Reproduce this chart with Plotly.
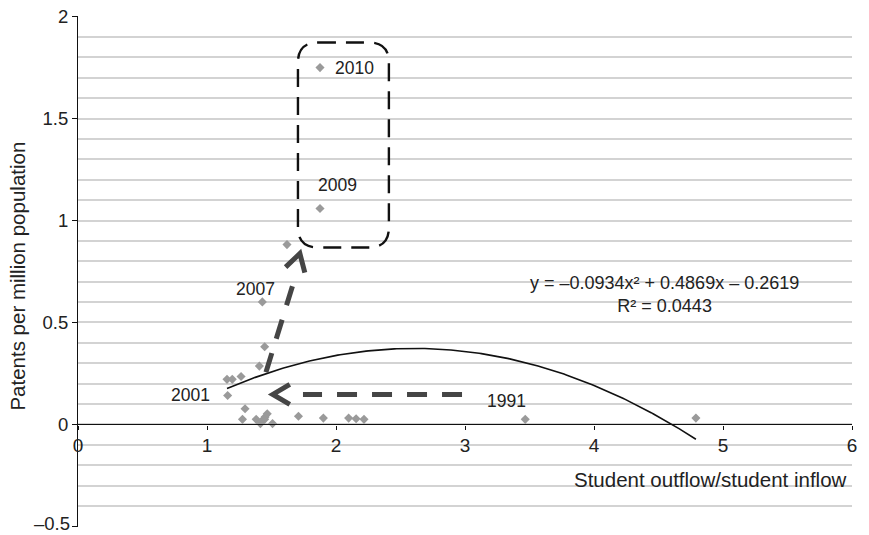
import numpy as np
import plotly.graph_objects as go

# Student outflow/inflow ratio vs. patents per million population
outflow_ratio = [1.275, 1.295, 1.381, 1.414, 1.430, 1.447, 1.450, 1.467, 1.508,
                 1.709, 1.902, 2.098, 2.156, 2.217, 3.467, 4.790,
                 1.155, 1.196, 1.264, 1.160, 1.406, 1.447, 1.429, 1.620,
                 1.876, 1.876]
patents_per_million = [0.025, 0.077, 0.025, 0.004, 0.020, 0.025, 0.036, 0.052, 0.004,
                       0.040, 0.031, 0.031, 0.028, 0.025, 0.025, 0.031,
                       0.221, 0.221, 0.235, 0.142, 0.286, 0.381, 0.601, 0.882,
                       1.059, 1.750]

# Year labels: index into the arrays above, text, and pixel offset of the label
label_index = [14, 19, 22, 24, 25]
label_text = ["1991", "2001", "2007", "2009", "2010"]
label_anchor = ["center", "right", "center", "center", "left"]
label_dx = [-19, -16, -7, 17, 13]
label_dy = [18, 0, 13, 23, 0]

# Quadratic trend: y = a x^2 + b x + c
trend_coef = [-0.0934, 0.4869, -0.2619]
trend_r2 = 0.0443

x_ticks = [0, 1, 2, 3, 4, 5, 6]
x_range = [0, 6]
y_ticks = [-0.5, 0, 0.5, 1, 1.5, 2]
y_ticktext = ["–0.5", "0", "0.5", "1", "1.5", "2"]
y_range = [-0.503, 2.003]

# Annotation arrows (data coordinates): dashes start, dashes end, tip
arrow_h = [(2.977, 0.147), (1.744, 0.147), (1.51, 0.147)]
arrow_d = [(1.457, 0.256), (1.69, 0.735), (1.72, 0.838)]
# Highlight box around the latest years
box_x = [1.705, 2.41]
box_y = [0.868, 1.873]

W, H = 869, 535
ML, MR, MT, MB = 78, 17, 16, 8
PW, PH = W - ML - MR, H - MT - MB
sx = PW / (x_range[1] - x_range[0])
sy = PH / (y_range[1] - y_range[0])

font_family = "Liberation Sans, Arial, Helvetica, sans-serif"
text_color = "#222222"
arrow_color = "#454545"
tick_font = dict(size=18.5, color=text_color, family=font_family)

fig = go.Figure()

# trend curve over the observed range
xt = np.linspace(min(outflow_ratio), max(outflow_ratio), 200)
yt = trend_coef[0] * xt ** 2 + trend_coef[1] * xt + trend_coef[2]
fig.add_trace(go.Scatter(x=xt, y=yt, mode="lines",
                         line=dict(color="#111111", width=1.6),
                         hoverinfo="skip", showlegend=False))

fig.add_trace(go.Scatter(x=outflow_ratio, y=patents_per_million, mode="markers",
                         marker=dict(symbol="diamond", size=7, color="#9a9a9a",
                                     line=dict(width=0)),
                         showlegend=False))

annotations = []
for i, t, a, dx, dy in zip(label_index, label_text, label_anchor, label_dx, label_dy):
    annotations.append(dict(x=outflow_ratio[i], y=patents_per_million[i], text=t,
                            showarrow=False, xanchor=a, yanchor="middle",
                            xshift=dx, yshift=dy,
                            font=dict(size=17.5, color=text_color, family=font_family)))

eq = (f"y = –{abs(trend_coef[0]):.4f}x² + {trend_coef[1]:.4f}x – {abs(trend_coef[2]):.4f}"
      f"<br>R² = {trend_r2:.4f}")
annotations.append(dict(x=4.543, y=0.637, text=eq, showarrow=False, align="center",
                        xanchor="center", yanchor="middle",
                        font=dict(size=18, color=text_color, family=font_family)))

annotations.append(dict(xref="paper", yref="y", x=0.996, y=-0.268,
                        text="Student outflow/student inflow", showarrow=False,
                        xanchor="right", yanchor="middle",
                        font=dict(size=20.5, color=text_color, family=font_family)))
annotations.append(dict(xref="paper", yref="paper", x=(18 - ML) / PW, y=0.49,
                        text="Patents per million population", showarrow=False,
                        textangle=-90, xanchor="center", yanchor="middle",
                        font=dict(size=20.5, color=text_color, family=font_family)))

# lowest y tick label sits right at the bottom edge; nudge it up to stay inside
annotations.append(dict(xref="paper", yref="y", x=(72 - ML) / PW, y=y_ticks[0],
                        text=y_ticktext[0], showarrow=False, xanchor="right",
                        yanchor="middle", yshift=3, font=tick_font))
axis_ticktext = [""] + y_ticktext[1:]

shapes = []


def chevron(tip, back, arm=17, half=10):
    # open arrow head drawn in pixel space, converted back to data units
    dxp = (tip[0] - back[0]) * sx
    dyp = (tip[1] - back[1]) * sy
    n = (dxp ** 2 + dyp ** 2) ** 0.5
    ux, uy = dxp / n, dyp / n
    px, py = -uy, ux
    pts = []
    for s in (1, -1):
        ex = -arm * ux + s * half * px
        ey = -arm * uy + s * half * py
        pts.append((tip[0] + ex / sx, tip[1] + ey / sy))
    return f"M{pts[0][0]},{pts[0][1]} L{tip[0]},{tip[1]} L{pts[1][0]},{pts[1][1]}"


for (x0, y0), (x1, y1), tip in (arrow_h, arrow_d):
    shapes.append(dict(type="line", xref="x", yref="y", x0=x0, y0=y0, x1=x1, y1=y1,
                       line=dict(color=arrow_color, width=5, dash="20px,15px")))
    shapes.append(dict(type="path", xref="x", yref="y", path=chevron(tip, (x0, y0)),
                       line=dict(color=arrow_color, width=5)))

# rounded dashed rectangle
rx, ry = 20 / sx, 20 / sy
l, r = box_x
b, t = box_y
box_path = (f"M{l + rx},{t} L{r - rx},{t} Q{r},{t} {r},{t - ry} "
            f"L{r},{b + ry} Q{r},{b} {r - rx},{b} "
            f"L{l + rx},{b} Q{l},{b} {l},{b + ry} "
            f"L{l},{t - ry} Q{l},{t} {l + rx},{t} Z")
shapes.append(dict(type="path", xref="x", yref="y", path=box_path,
                   line=dict(color="#111111", width=2.4, dash="18px,10px")))

grid_color = "#d3d3d3"
fig.update_layout(
    width=W, height=H,
    margin=dict(l=ML, r=MR, t=MT, b=MB, autoexpand=False),
    paper_bgcolor="white", plot_bgcolor="white",
    showlegend=False,
    annotations=annotations,
    shapes=shapes,
    xaxis=dict(range=x_range, tickvals=x_ticks, ticks="outside", ticklen=4,
               tickcolor="#111111", showline=True, linecolor="#111111", linewidth=1.2,
               anchor="free", position=(0 - y_range[0]) / (y_range[1] - y_range[0]),
               showgrid=False, zeroline=False, ticklabeloverflow="allow",
               automargin=False,
               tickfont=dict(size=19, color=text_color, family=font_family)),
    yaxis=dict(range=y_range, tickvals=y_ticks, ticktext=axis_ticktext,
               ticks="outside", ticklen=5,
               tickcolor="#111111", showline=True, linecolor="#111111", linewidth=1.2,
               showgrid=True, gridcolor=grid_color, gridwidth=1.5, zeroline=False,
               ticklabeloverflow="allow", automargin=False,
               minor=dict(tickvals=[round(-0.5 + 0.1 * k, 1) for k in range(26)],
                          showgrid=True, gridcolor=grid_color, gridwidth=1.5),
               tickfont=tick_font),
)

fig.write_html("out.html")
